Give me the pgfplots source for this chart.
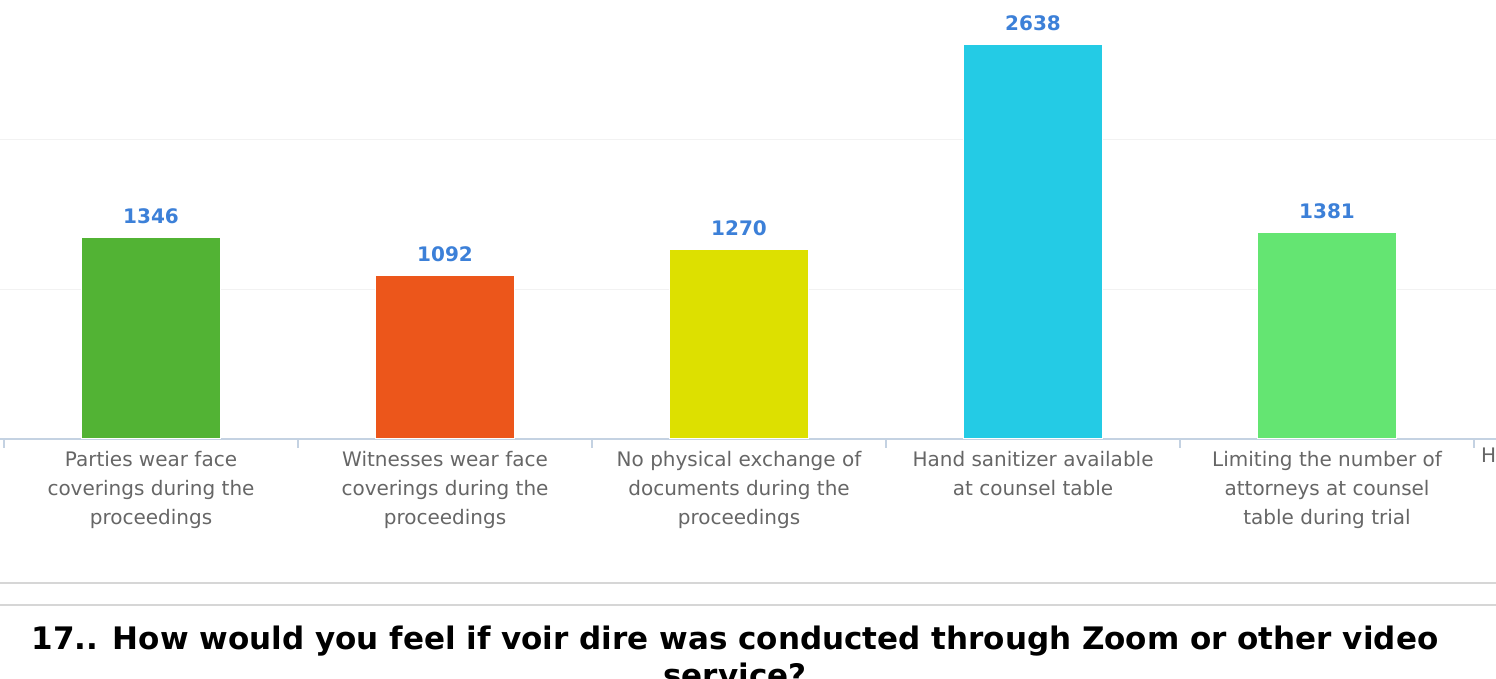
\documentclass[border=0pt]{standalone}
\usepackage{pgfplots}
\pgfplotsset{compat=1.18}
\usepackage{fontspec}
\setmainfont{DejaVu Sans}
\definecolor{c1}{HTML}{52B334}
\definecolor{c2}{HTML}{EC561B}
\definecolor{c3}{HTML}{DDE000}
\definecolor{c4}{HTML}{24CBE5}
\definecolor{c5}{HTML}{64E572}
\definecolor{vallab}{HTML}{3C80D8}
\definecolor{ticklab}{HTML}{666666}
\definecolor{axisc}{HTML}{C4D2E2}
\definecolor{gridc}{HTML}{F2F2F2}
\definecolor{sepc}{HTML}{D6D6D6}
\begin{document}
\begin{tikzpicture}
\useasboundingbox (0pt,0pt) rectangle (1496pt,679pt);
\clip (0pt,0pt) rectangle (1496pt,679pt);
\begin{axis}[
  at={(0pt,240pt)}, anchor=south west,
  scale only axis, width=1496pt, height=439pt,
  xmin=-0.5136, xmax=4.5748, ymin=0, ymax=2936,
  axis x line*=bottom, axis y line*=left,
  y axis line style={draw=none},
  x axis line style={draw=axisc, line width=1.5pt},
  xtick={0,1,2,3,4},
  xticklabels={{Parties wear face\\coverings during the\\proceedings},
                {Witnesses wear face\\coverings during the\\proceedings},
                {No physical exchange of\\documents during the\\proceedings},
                {Hand sanitizer available\\at counsel table},
                {Limiting the number of\\attorneys at counsel\\table during trial}},
  minor xtick={-0.5,0.5,1.5,2.5,3.5,4.5},
  major x tick style={draw=none},
  minor x tick style={draw=axisc, line width=1.5pt},
  minor tick length=9pt,
  tick align=outside,
  ytick={1000,2000,3000}, yticklabels={}, major y tick style={draw=none},
  ymajorgrids, grid style={draw=gridc, line width=1pt},
  xticklabel style={font=\fontsize{20}{29}\selectfont, text=ticklab, align=center, anchor=north, inner sep=0pt, yshift=-8pt},
  ybar, bar width=139pt,
  nodes near coords, point meta=explicit symbolic,
  every node near coord/.append style={font=\fontsize{20}{24}\selectfont\bfseries, text=vallab, anchor=base, inner sep=0pt, yshift=14pt},
]
\addplot[fill=c1, draw=white, line width=1pt, bar shift=0pt] coordinates {(0,1346) [1346]};
\addplot[fill=c2, draw=white, line width=1pt, bar shift=0pt] coordinates {(1,1092) [1092]};
\addplot[fill=c3, draw=white, line width=1pt, bar shift=0pt] coordinates {(2,1270) [1270]};
\addplot[fill=c4, draw=white, line width=1pt, bar shift=0pt] coordinates {(3,2638) [2638]};
\addplot[fill=c5, draw=white, line width=1pt, bar shift=0pt] coordinates {(4,1381) [1381]};
\end{axis}
\node[anchor=north west, inner sep=0pt, font=\fontsize{20}{29}\selectfont, text=ticklab] at (1481pt,232pt) {H\hspace{6pt}aving jurors seated apart};
\draw[sepc, line width=2pt] (0pt,96pt) -- (1496pt,96pt);
\draw[sepc, line width=2pt] (0pt,74pt) -- (1496pt,74pt);
\node[anchor=base, inner sep=0pt, font=\fontsize{31}{36}\selectfont\bfseries] at (735pt,29pt) {17.. How would you feel if voir dire was conducted through Zoom or other video};
\node[anchor=base, inner sep=0pt, font=\fontsize{31}{36}\selectfont\bfseries] at (735pt,-8pt) {service?};
\end{tikzpicture}
\end{document}
